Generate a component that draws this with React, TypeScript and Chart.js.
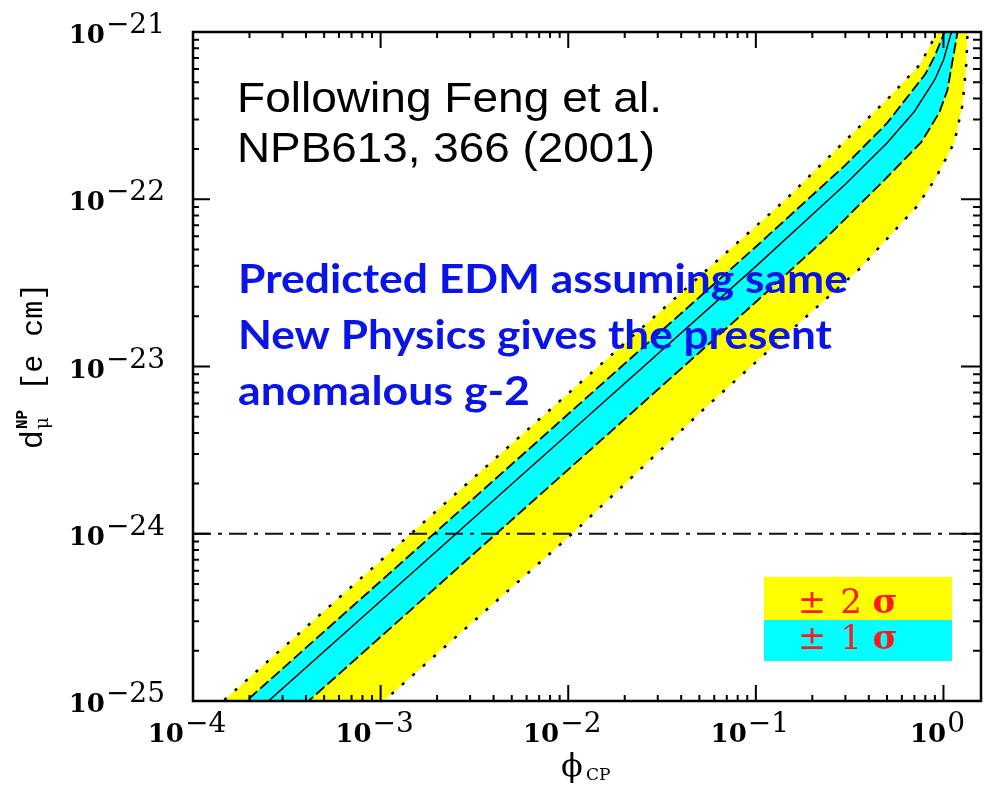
import React, { useEffect, useRef } from 'react';
import { Chart, registerables } from 'chart.js';

Chart.register(...registerables);

// ---- axis ranges and tick labels ----
const X_MIN = 1e-4;
const X_MAX = 1.585;
const Y_MIN = 1e-25;
const Y_MAX = 1e-21;
const xExponents = [-4, -3, -2, -1, 0];
const yExponents = [-21, -22, -23, -24, -25];
const minorMultipliers = [2, 3, 4, 5, 6, 7, 8, 9];
const referenceLevel = 1e-24; // dash-dot horizontal line

// ---- curves (phi_CP, d_mu in e cm) ----
// +2 sigma boundary (dotted, upper edge of yellow band)
const phiSigma2Hi = [1e-4, 0.01, 0.1435, 0.515, 0.75, 0.929, 1.2, 1.55];
const dSigma2Hi = [6.9e-26, 6.9e-24, 9.9e-23, 4.08e-22, 6.4e-22, 1e-21, 3e-21, 3e-20];
// +1 sigma boundary (dashed, upper edge of cyan band)
const phiSigma1Hi = [1e-4, 0.01, 0.1, 0.3, 0.5, 0.8, 0.9, 1.012, 1.25, 1.55];
const dSigma1Hi = [5.2e-26, 5.2e-24, 5.2e-23, 1.6e-22, 2.85e-22, 5.6e-22, 7.2e-22, 1e-21, 3e-21, 3e-20];
// central value (solid)
const phiCentral = [1e-4, 0.01, 0.1, 0.3, 0.5, 0.7, 0.9, 1.0, 1.103, 1.3, 1.55];
const dCentral = [3.96e-26, 3.96e-24, 3.97e-23, 1.23e-22, 2.17e-22, 3.35e-22, 5.2e-22, 6.8e-22, 1e-21, 3e-21, 3e-20];
// -1 sigma boundary (dashed, lower edge of cyan band)
const phiSigma1Lo = [1e-4, 0.01, 0.1, 0.2375, 0.473, 0.763, 0.95, 1.05, 1.188, 1.35, 1.55];
const dSigma1Lo = [2.42e-26, 2.42e-24, 2.43e-23, 5.9e-23, 1.27e-22, 2.2e-22, 3.3e-22, 4.5e-22, 1e-21, 3e-21, 3e-20];
// -2 sigma boundary (dotted, lower edge of yellow band)
const phiSigma2Lo = [1e-4, 1.04e-3, 0.0105, 0.0543, 0.356, 0.718, 0.895, 1.037, 1.145, 1.263, 1.327, 1.343, 1.55];
const dSigma2Lo = [9.6e-27, 1e-25, 1e-24, 5.73e-24, 3.83e-23, 9.0e-23, 1.3e-22, 1.77e-22, 2.2e-22, 3.66e-22, 6.7e-22, 1e-21, 1e-19];

const legendLabels = ['2', '1'];

const pts = (xs: number[], ys: number[]) => xs.map((x, i) => ({ x, y: ys[i] }));

function drawPow(ctx: CanvasRenderingContext2D, exp: number, x: number, y: number, align: 'right' | 'center') {
  const base = '10';
  const ex = exp < 0 ? '\u2212' + Math.abs(exp) : String(exp);
  ctx.font = "bold 26px 'DejaVu Serif'";
  const wb = ctx.measureText(base).width;
  ctx.font = "28px 'DejaVu Serif'";
  const we = ctx.measureText(ex).width;
  const gap = 1;
  const total = wb + gap + we;
  const sx = align === 'right' ? x - total : x - total / 2;
  ctx.textAlign = 'left';
  ctx.textBaseline = 'alphabetic';
  ctx.fillStyle = '#000';
  ctx.font = "bold 26px 'DejaVu Serif'";
  ctx.fillText(base, sx, y);
  ctx.font = "28px 'DejaVu Serif'";
  ctx.fillText(ex, sx + wb + gap, y - 10);
}

function drawFitted(ctx: CanvasRenderingContext2D, text: string, x: number, y: number, font: string, width: number) {
  ctx.font = font;
  const w = ctx.measureText(text).width;
  ctx.save();
  ctx.translate(x, y);
  ctx.scale(width / w, 1);
  ctx.textAlign = 'left';
  ctx.textBaseline = 'alphabetic';
  ctx.fillText(text, 0, 0);
  ctx.restore();
}

const overlayPlugin = {
  id: 'overlay',
  afterDraw(chart: any) {
    const ctx: CanvasRenderingContext2D = chart.ctx;
    const { left, right, top, bottom } = chart.chartArea;
    const xs = chart.scales.x;
    const ys = chart.scales.y;
    ctx.save();

    // frame
    ctx.strokeStyle = '#000';
    ctx.lineWidth = 2.5;
    ctx.strokeRect(left, top, right - left, bottom - top);

    // ticks
    ctx.lineWidth = 2;
    ctx.beginPath();
    xExponents.forEach((e) => {
      const major = Math.pow(10, e);
      const px = xs.getPixelForValue(major);
      ctx.moveTo(px, bottom); ctx.lineTo(px, bottom - 16);
      ctx.moveTo(px, top); ctx.lineTo(px, top + 16);
      minorMultipliers.forEach((k) => {
        const v = k * major;
        if (v > X_MAX) return;
        const p = xs.getPixelForValue(v);
        ctx.moveTo(p, bottom); ctx.lineTo(p, bottom - 6);
        ctx.moveTo(p, top); ctx.lineTo(p, top + 6);
      });
    });
    yExponents.forEach((e) => {
      const major = Math.pow(10, e);
      const py = ys.getPixelForValue(major);
      ctx.moveTo(left, py); ctx.lineTo(left + 17, py);
      ctx.moveTo(right, py); ctx.lineTo(right - 20, py);
      if (major * 10 > Y_MAX * 1.0001) return;
      minorMultipliers.forEach((k) => {
        const p = ys.getPixelForValue(k * major);
        ctx.moveTo(left, p); ctx.lineTo(left + 6, p);
        ctx.moveTo(right, p); ctx.lineTo(right - 8, p);
      });
    });
    ctx.stroke();

    // tick labels
    yExponents.forEach((e) => {
      const py = ys.getPixelForValue(Math.pow(10, e));
      drawPow(ctx, e, 165, py + 11, 'right');
    });
    xExponents.forEach((e) => {
      const px = xs.getPixelForValue(Math.pow(10, e));
      drawPow(ctx, e, px - 6, 742, 'center');
    });

    // x title: phi_CP
    ctx.fillStyle = '#000';
    ctx.textAlign = 'left';
    ctx.font = "32px 'DejaVu Serif'";
    ctx.fillText('\u03d5', 561, 776);
    ctx.font = "17px 'DejaVu Serif'";
    ctx.fillText('CP', 586, 780);

    // y title: d_mu^NP [e cm]
    ctx.save();
    ctx.translate(42, 366);
    ctx.rotate(-Math.PI / 2);
    ctx.font = "32px 'Liberation Mono'";
    const wd = ctx.measureText('d').width;
    ctx.font = "18px 'DejaVu Serif'";
    const wmu = ctx.measureText('\u03bc').width;
    ctx.font = "bold 16px 'Liberation Mono'";
    const wnp = ctx.measureText('NP').width;
    ctx.font = "30px 'Liberation Mono'";
    const wrest = ctx.measureText(' [e cm]').width;
    const wscript = Math.max(wmu, wnp) + 2;
    const tot = wd + wscript + wrest;
    let cx = -tot / 2;
    ctx.textAlign = 'left';
    ctx.font = "32px 'Liberation Mono'";
    ctx.fillText('d', cx, 0);
    cx += wd;
    ctx.font = "18px 'DejaVu Serif'";
    ctx.fillText('\u03bc', cx + 1, 6);
    ctx.font = "bold 16px 'Liberation Mono'";
    ctx.fillText('NP', cx + 1, -15);
    cx += wscript;
    ctx.font = "30px 'Liberation Mono'";
    ctx.fillText(' [e cm]', cx, 0);
    ctx.restore();

    // reference annotation
    ctx.fillStyle = '#000';
    drawFitted(ctx, 'Following Feng et al.', 237, 112, "43px 'Liberation Sans'", 425);
    drawFitted(ctx, 'NPB613, 366 (2001)', 237, 162, "43px 'Liberation Sans'", 418);

    // blue statement
    ctx.fillStyle = '#0a14e6';
    drawFitted(ctx, 'Predicted EDM assuming same', 238, 293, "bold 41px Lato", 610);
    drawFitted(ctx, 'New Physics gives the present', 238, 349, "bold 41px Lato", 594);
    drawFitted(ctx, 'anomalous g-2', 238, 405, "bold 41px Lato", 292);

    // legend box
    ctx.fillStyle = '#ffff00';
    ctx.fillRect(764, 577, 188, 43);
    ctx.fillStyle = '#00ffff';
    ctx.fillRect(764, 620, 188, 41);
    ctx.fillStyle = '#ff1a1a';
    ctx.textAlign = 'center';
    legendLabels.forEach((lab, i) => {
      const by = 613 + i * 36;
      ctx.font = "34px 'DejaVu Serif'";
      ctx.fillText('\u00b1', 812, by);
      ctx.fillText(lab, 851, by);
      ctx.font = "bold 34px 'DejaVu Serif'";
      ctx.fillText('\u03c3', 885, by);
    });

    ctx.restore();
  },
};

export default function App() {
  const canvasRef = useRef<HTMLCanvasElement | null>(null);

  useEffect(() => {
    if (!canvasRef.current) return;
    const chart = new Chart(canvasRef.current, {
      type: 'line',
      data: {
        datasets: [
          {
            label: '+1 sigma',
            data: pts(phiSigma1Hi, dSigma1Hi),
            borderColor: '#000',
            borderWidth: 1.8,
            borderDash: [11, 4],
            backgroundColor: '#00ffff',
            fill: 1,
            pointRadius: 0,
            clip: 0,
          },
          {
            label: '-1 sigma',
            data: pts(phiSigma1Lo, dSigma1Lo),
            borderColor: '#000',
            borderWidth: 1.8,
            borderDash: [11, 4],
            fill: false,
            pointRadius: 0,
            clip: 0,
          },
          {
            label: '+2 sigma',
            data: pts(phiSigma2Hi, dSigma2Hi),
            borderColor: '#000',
            borderWidth: 2.5,
            borderDash: [3, 11],
            backgroundColor: '#ffff00',
            fill: 3,
            pointRadius: 0,
            clip: 0,
          },
          {
            label: '-2 sigma',
            data: pts(phiSigma2Lo, dSigma2Lo),
            borderColor: '#000',
            borderWidth: 2.5,
            borderDash: [3, 11],
            fill: false,
            pointRadius: 0,
            clip: 0,
          },
          {
            label: 'central',
            data: pts(phiCentral, dCentral),
            borderColor: '#000',
            borderWidth: 1.5,
            fill: false,
            pointRadius: 0,
            clip: 0,
          },
          {
            label: 'reference',
            data: [
              { x: X_MIN, y: referenceLevel },
              { x: X_MAX, y: referenceLevel },
            ],
            borderColor: '#111',
            borderWidth: 2,
            borderDash: [18, 7, 4, 7],
            fill: false,
            pointRadius: 0,
            clip: 0,
          },
        ],
      },
      options: {
        animation: false,
        responsive: false,
        events: [],
        layout: { padding: { left: 193, right: 9, top: 32, bottom: 93 } },
        elements: { line: { tension: 0 }, point: { radius: 0 } },
        plugins: {
          legend: { display: false },
          tooltip: { enabled: false },
          filler: { drawTime: 'beforeDatasetsDraw', propagate: false },
        },
        scales: {
          x: { type: 'logarithmic', min: X_MIN, max: X_MAX, display: false },
          y: { type: 'logarithmic', min: Y_MIN, max: Y_MAX, display: false },
        },
      },
      plugins: [overlayPlugin],
    } as any);
    return () => chart.destroy();
  }, []);

  return (
    <div style={{ position: 'absolute', left: 0, top: 0, width: 990, height: 794, background: '#fff' }}>
      <canvas ref={canvasRef} width={990} height={794} style={{ display: 'block' }} />
    </div>
  );
}
